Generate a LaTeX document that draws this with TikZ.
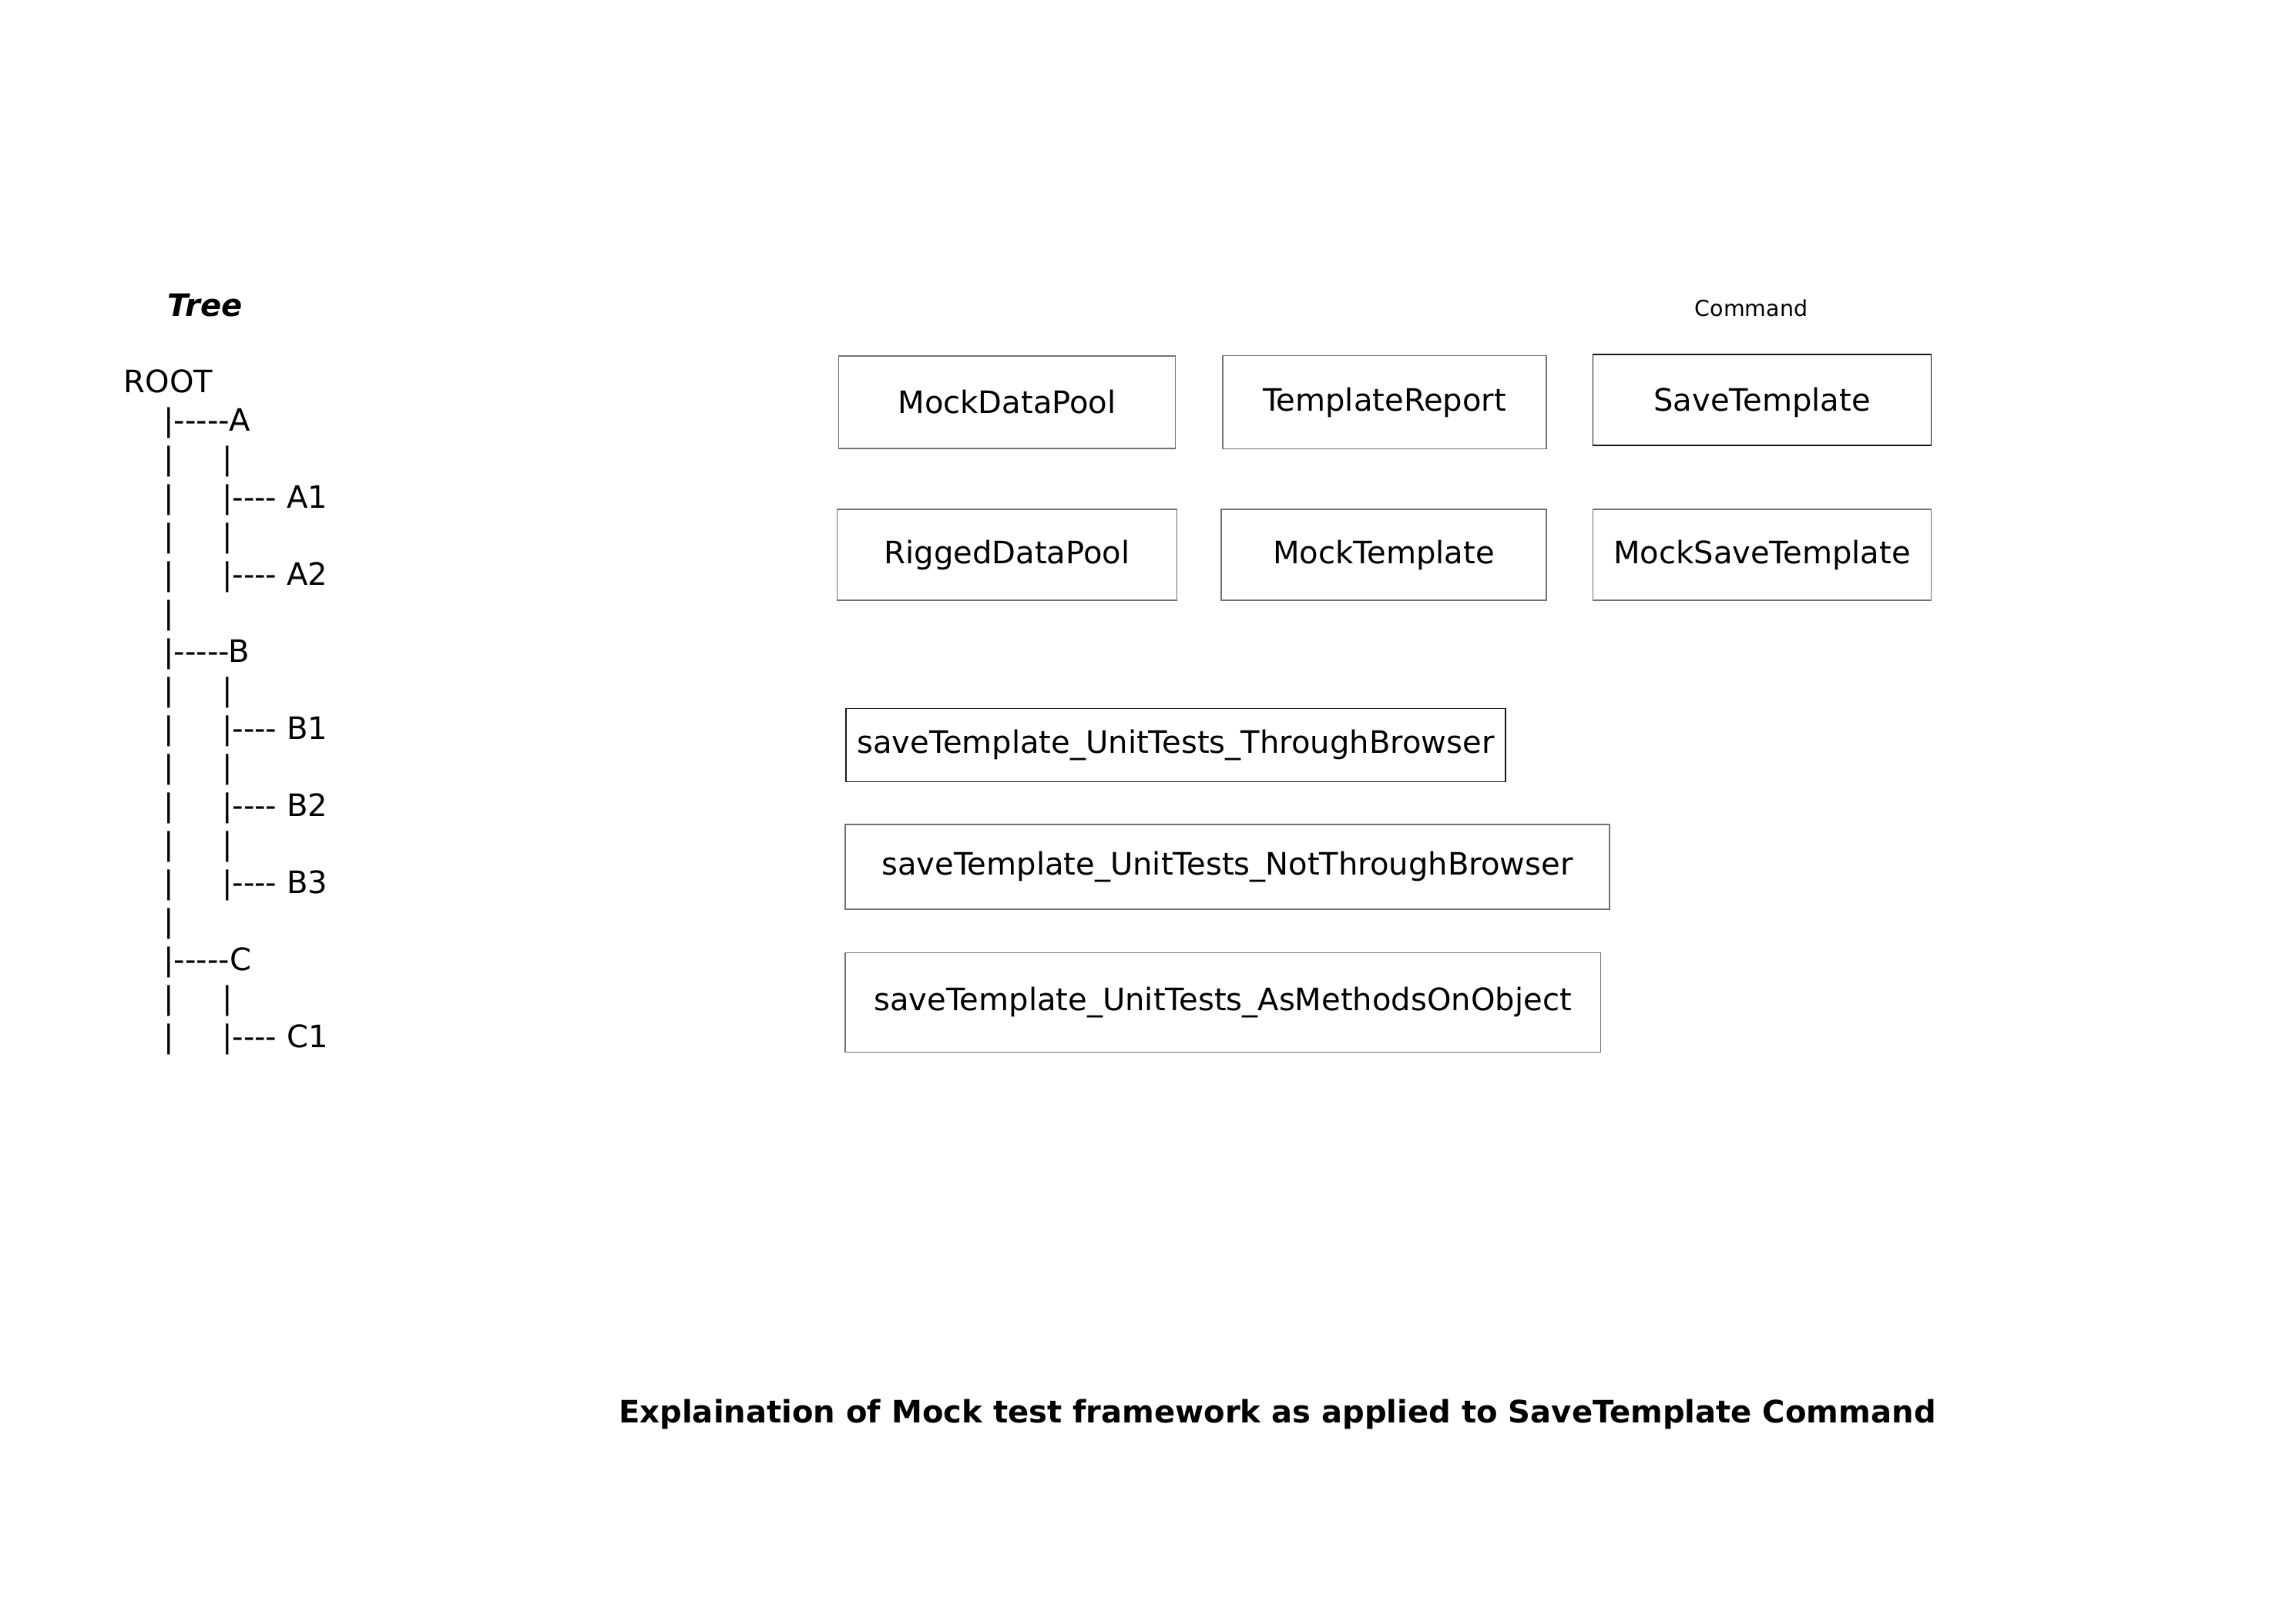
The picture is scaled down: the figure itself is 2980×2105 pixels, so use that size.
\documentclass[tikz,border=0pt]{standalone}
\usepackage{fontspec}
\setmainfont{DejaVu Sans}[Ligatures=TeXOff]
\usepackage{tikz}
\usetikzlibrary{positioning}
\newcommand\txtsize{\fontsize{11.4pt}{14.2pt}\selectfont}
\newcommand\ia{\hspace*{1.29em}}
\newcommand\ib{\hspace*{1.55em}}
\tikzset{
  classbox/.style={draw=black!55, line width=0.45pt, inner sep=0pt, font=\txtsize},
  darkbox/.style={classbox, draw=black!90},
  treeline/.style={anchor=base west, inner sep=0pt, font=\txtsize}
}

\begin{document}
\begin{tikzpicture}[x=0.01cm, y=-0.01cm]
    \useasboundingbox (0,0) rectangle (2980,2105);
    % Tree heading and text lines
    \node[font=\txtsize\bfseries\itshape] (treehead) at (266,396) {Tree};
    \foreach \txt [count=\i from 0] in {ROOT, \ia|-----A, \ia|\ib|, \ia|\ib|---- A1, \ia|\ib|, \ia|\ib|---- A2, \ia|,
        \ia|-----B, \ia|\ib|, \ia|\ib|---- B1, \ia|\ib|, \ia|\ib|---- B2, \ia|\ib|, \ia|\ib|---- B3, \ia|,
        \ia|-----C, \ia|\ib|, \ia|\ib|---- C1}
        \node[treeline] (tree\i) at (160,509+\i*50) {\txt};
    % Command label
    \node[font=\fontsize{8.1pt}{10pt}\selectfont] (cmdlabel) at (2273,400) {Command};
    % Class boxes
    \node[classbox, minimum width=4.37cm, minimum height=1.20cm] (mockpool) at (1307,522) {MockDataPool};
    \node[classbox, minimum width=4.20cm, minimum height=1.21cm] (report) at (1797,522) {TemplateReport};
    \node[darkbox, minimum width=4.39cm, minimum height=1.18cm, text height=1.05em] (save) at (2287,519) {SaveTemplate};
    \node[classbox, minimum width=4.41cm, minimum height=1.18cm] (rigged) at (1307,720) {RiggedDataPool};
    \node[classbox, minimum width=4.22cm, minimum height=1.18cm] (mocktpl) at (1796,720) {MockTemplate};
    \node[classbox, minimum width=4.39cm, minimum height=1.18cm] (mocksave) at (2287,720) {MockSaveTemplate};
    % Unit test boxes
    \node[darkbox, minimum width=8.56cm, minimum height=0.95cm] (through) at (1526,967) {saveTemplate\_UnitTests\_ThroughBrowser};
    \node[classbox, minimum width=9.91cm, minimum height=1.10cm] (notthrough) at (1593,1125) {saveTemplate\_UnitTests\_NotThroughBrowser};
    \node[classbox, minimum width=9.80cm, minimum height=1.29cm] (asmethods) at (1587,1301) {saveTemplate\_UnitTests\_AsMethodsOnObject};
    % Caption
    \node[font=\txtsize\bfseries] (caption) at (1658,1835) {Explaination of Mock test framework as applied to SaveTemplate Command};
\end{tikzpicture}
\end{document}
